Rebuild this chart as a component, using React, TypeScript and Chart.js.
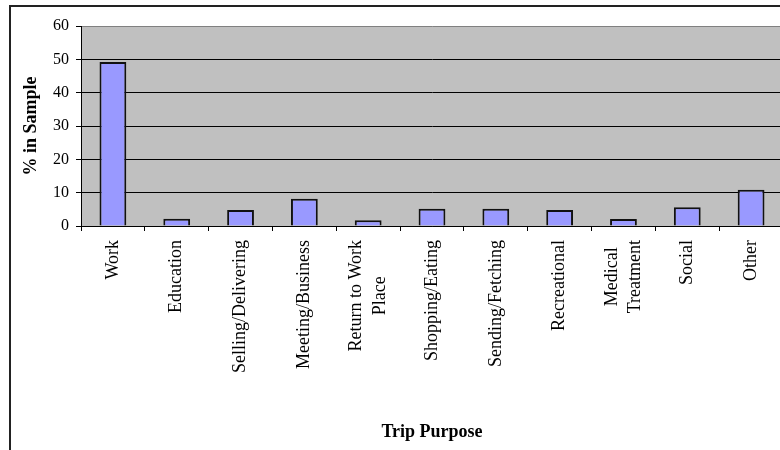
import { useEffect, useRef } from "react";
import { Chart, registerables } from "chart.js";

Chart.register(...registerables);

// Trip purposes (multi-line names are split into lines)
const categories: (string | string[])[] = [
  "Work",
  "Education",
  "Selling/Delivering",
  "Meeting/Business",
  ["Return to Work", "Place"],
  "Shopping/Eating",
  "Sending/Fetching",
  "Recreational",
  ["Medical", "Treatment"],
  "Social",
  "Other",
];

// Share of sampled trips, percent
const shares: number[] = [49.2, 2.2, 4.8, 8.2, 1.7, 5.2, 5.2, 4.8, 2.1, 5.6, 10.9];

const yTickValues: number[] = [0, 10, 20, 30, 40, 50, 60];

const yTitle = "% in Sample";
const xTitle = "Trip Purpose";

const SERIF = '"Liberation Serif", "Times New Roman", Times, serif';

// Grey plot area behind the bars
const plotBackground = {
  id: "plotBackground",
  beforeDraw(chart: any) {
    const { ctx, chartArea: a } = chart;
    ctx.save();
    ctx.fillStyle = "#C0C0C0";
    ctx.fillRect(a.left, a.top, a.right - a.left, a.bottom - a.top);
    ctx.restore();
  },
};

// Rotated category names, each block centred on its category
const categoryLabels = {
  id: "categoryLabels",
  afterDraw(chart: any) {
    const { ctx, chartArea } = chart;
    const xs = chart.scales.x;
    const start = chartArea.bottom + 14;
    const lineStep = 23.3;
    ctx.save();
    ctx.font = `18px ${SERIF}`;
    ctx.fillStyle = "#000";
    ctx.textAlign = "center";
    ctx.textBaseline = "middle";
    categories.forEach((label, i) => {
      const lines = Array.isArray(label) ? label : [label];
      const maxW = Math.max(...lines.map((l) => ctx.measureText(l).width));
      const x = xs.getPixelForValue(i);
      ctx.save();
      ctx.translate(x, start);
      ctx.rotate(-Math.PI / 2);
      lines.forEach((l, j) => {
        ctx.fillText(l, -maxW / 2, (j - (lines.length - 1) / 2) * lineStep);
      });
      ctx.restore();
    });
    ctx.restore();
  },
};

// Outer chart frame
const frame = {
  id: "frame",
  afterDraw(chart: any) {
    const { ctx } = chart;
    ctx.save();
    ctx.strokeStyle = "#222";
    ctx.lineWidth = 2;
    ctx.strokeRect(10, 6, chart.width + 40, chart.height + 40);
    ctx.restore();
  },
};

function TripPurposeChart() {
  const canvasRef = useRef<HTMLCanvasElement | null>(null);

  useEffect(() => {
    const canvas = canvasRef.current;
    if (!canvas) return;
    const chart = new Chart(canvas, {
      type: "bar",
      data: {
        labels: categories.map((c) => (Array.isArray(c) ? c.join(" ") : c)),
        datasets: [
          {
            data: shares,
            backgroundColor: "#9999FF",
            borderColor: "#111",
            borderWidth: 2,
            barPercentage: 0.42,
            categoryPercentage: 1,
          },
        ],
      },
      options: {
        responsive: false,
        animation: false,
        devicePixelRatio: 1,
        layout: { padding: { top: 26, right: 1, bottom: 0, left: 0 } },
        plugins: {
          legend: { display: false },
          tooltip: { enabled: false },
        },
        scales: {
          x: {
            type: "category",
            offset: true,
            grid: {
              display: true,
              offset: true,
              drawOnChartArea: false,
              drawTicks: true,
              tickLength: 5,
              color: "#000",
              lineWidth: 1,
            },
            border: { display: true, color: "#000", width: 1 },
            ticks: { display: false },
            title: {
              display: true,
              text: xTitle,
              color: "#000",
              font: { family: SERIF, size: 18, weight: "bold" },
              padding: { top: 190.4, bottom: 7 },
            },
          },
          y: {
            min: 0,
            max: 60,
            afterBuildTicks(scale: any) {
              scale.ticks = yTickValues.map((v) => ({ value: v }));
            },
            afterFit(scale: any) {
              scale.width = 81;
            },
            ticks: {
              color: "#000",
              padding: 7,
              font: { family: SERIF, size: 16 },
            },
            grid: {
              color: (ctx: any) => (ctx.tick && ctx.tick.value === 60 ? "#808080" : "#000"),
              tickColor: "#000",
              tickLength: 5,
              lineWidth: 1,
              drawTicks: true,
            },
            border: { display: true, color: "#000", width: 1 },
            title: {
              display: true,
              text: yTitle,
              color: "#000",
              font: { family: SERIF, size: 18, weight: "bold" },
              padding: { top: 21, bottom: 0 },
            },
          },
        },
      } as any,
      plugins: [plotBackground, categoryLabels, frame],
    });
    return () => chart.destroy();
  }, []);

  return (
    <div
      style={{
        position: "fixed",
        left: 0,
        top: 0,
        width: 780,
        height: 450,
        overflow: "hidden",
        background: "#fff",
      }}
    >
      <canvas ref={canvasRef} width={784} height={450} style={{ display: "block" }} />
    </div>
  );
}

export default function App() {
  return <TripPurposeChart />;
}
